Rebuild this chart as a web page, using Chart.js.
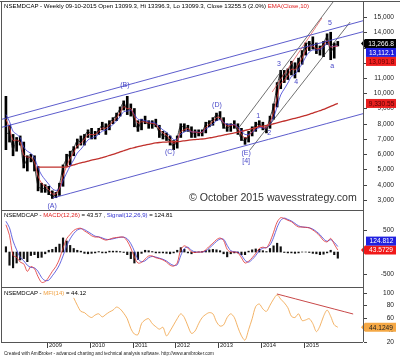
<!DOCTYPE html>
<html>
<head>
<meta charset="utf-8">
<script src="https://cdn.jsdelivr.net/npm/chart.js@4.4.1/dist/chart.umd.min.js"></script>
<style>
body { margin: 0; background: #fff; }
#wrap { position: relative; width: 400px; height: 360px; overflow: hidden; font-family: "Liberation Sans", Arial, sans-serif; }
canvas { position: absolute; left: 0; }
.t { position: absolute; left: 4px; white-space: nowrap; color: #000; line-height: 1; }
.ln { position: absolute; background: #555; }
</style>
</head>
<body>
<div id="wrap">
  <canvas id="cPrice" width="400" height="210" style="top:0;width:400px;height:210px"></canvas>
  <canvas id="cMacd" width="400" height="77" style="top:210px;width:400px;height:77px"></canvas>
  <canvas id="cMfi" width="400" height="73" style="top:287px;width:400px;height:73px"></canvas>

  <div class="ln" style="left:0;top:1px;width:400px;height:1px"></div>
  <div class="ln" style="left:1px;top:1px;width:1px;height:341px"></div>
  <div class="ln" style="left:363px;top:1px;width:1px;height:341px"></div>
  <div class="ln" style="left:1px;top:210px;width:362px;height:1px"></div>
  <div class="ln" style="left:1px;top:287px;width:362px;height:1px"></div>
  <div class="ln" style="left:1px;top:342px;width:362px;height:1px"></div>

  <div class="t" style="top:3px;font-size:6.1px">NSEMDCAP - Weekly 09-10-2015 Open 13099.3, Hi 13396.3, Lo 13099.3, Close 13255.5 (2.0%) <span style="color:#e02020">EMA(Close,10)</span></div>
  <div class="t" style="top:212px;font-size:6px">NSEMDCAP - <span style="color:#e02020">MACD(12,26)</span> = 43.57 , <span style="color:#3030d0">Signal(12,26,9)</span> = 124.81</div>
  <div class="t" style="top:290px;font-size:6px">NSEMDCAP - <span style="color:#f0a040">MFI(14)</span> = 44.12</div>
  <div class="t" style="top:192px;left:189px;font-size:10.6px;color:#333">© October 2015 wavesstrategy.com</div>
  <div class="t" style="top:352px;font-size:4.6px;color:#222">Created with AmiBroker - advanced charting and technical analysis software. http://www.amibroker.com</div>
</div>

<script>
// monthly bars, Jan 2008 .. Oct 2015
const START_YEAR = 2008;
const X_MIN = 2007.95;
const X_MAX = 2016.38;

const highs = [9800, 7900, 7300, 7100, 7200, 6800, 5900, 6000, 5900, 5200, 4100, 4000,
  3900, 3600, 3500, 4100, 5300, 6000, 6200, 6500, 7000, 7200, 7300, 7600,
  7700, 7500, 7700, 8100, 8000, 8200, 8400, 8700, 9100, 9500, 9800, 9300,
  9000, 8200, 8300, 8500, 8200, 8200, 8300, 7900, 7500, 7400, 7200, 6900,
  7200, 8000, 8000, 7900, 7800, 7600, 7600, 7600, 8100, 8200, 8400, 8700,
  8800, 8400, 8000, 8000, 8200, 8000, 7700, 7100, 7500, 7800, 8100, 8200,
  8100, 7800, 8500, 9300, 10700, 11500, 11500, 11600, 12100, 12000, 12300, 12800,
  13300, 13400, 13700, 13300, 13100, 13400, 13900, 14000, 13300, 13400];
const lows = [6300, 6800, 5900, 6200, 6600, 5100, 4900, 5500, 4900, 3600, 3500, 3500,
  3350, 3100, 3150, 3300, 3900, 5200, 5300, 5900, 6400, 6600, 6600, 7100,
  7000, 7000, 7300, 7600, 7300, 7600, 8000, 8200, 8500, 8900, 8600, 8500,
  7800, 7500, 7600, 8000, 7700, 7700, 7800, 7100, 7000, 6900, 6600, 6300,
  6400, 7100, 7500, 7500, 7100, 7100, 7200, 7200, 7400, 7800, 7900, 8200,
  8300, 7700, 7500, 7500, 7700, 7300, 6900, 6650, 6800, 7200, 7500, 7800,
  7600, 7400, 7700, 8300, 9100, 10300, 10700, 10900, 11200, 11000, 11400, 11900,
  12500, 12800, 12900, 12600, 12500, 12400, 13200, 12200, 12300, 13100];
const closes = [7400, 7300, 6300, 6950, 6700, 5300, 5700, 5800, 5200, 3900, 3750, 3750,
  3500, 3200, 3400, 4000, 5200, 5700, 6100, 6400, 6900, 6800, 7200, 7500,
  7300, 7300, 7600, 7900, 7700, 8100, 8300, 8600, 9000, 9400, 8900, 9000,
  8100, 7700, 8200, 8100, 8000, 8000, 7900, 7400, 7200, 7150, 6800, 6500,
  7100, 7900, 7700, 7750, 7300, 7450, 7400, 7450, 8000, 8100, 8300, 8600,
  8400, 7800, 7700, 7900, 7950, 7500, 7000, 6900, 7300, 7700, 7900, 8000,
  7700, 7700, 8400, 9200, 10500, 11300, 11000, 11400, 11900, 11500, 12200, 12600,
  13200, 13300, 13100, 12800, 12950, 13300, 13700, 12700, 13100, 13266.8];
const emaFast = [8300, 7730, 6900, 6930, 6800, 5950, 5810, 5800, 5460, 4570, 4100, 3900,
  3670, 3400, 3400, 3740, 4570, 5210, 5720, 6110, 6560, 6700, 6985, 7280,
  7290, 7300, 7470, 7715, 7705, 7930, 8140, 8400, 8740, 9115, 8990, 8995,
  8485, 8040, 8130, 8115, 8050, 8020, 7950, 7635, 7390, 7250, 6995, 6710,
  6930, 7480, 7605, 7690, 7470, 7460, 7420, 7440, 7760, 7955, 8150, 8405,
  8400, 8060, 7855, 7880, 7920, 7680, 7290, 7070, 7200, 7485, 7720, 7880,
  7780, 7740, 8115, 8735, 9740, 10630, 10840, 11160, 11580, 11535, 11915, 12305,
  12815, 13090, 13095, 12925, 12940, 13145, 13460, 13025, 13070, 13091.8];
const emaSlow = [8600, 8145, 7500, 7310, 7095, 6465, 6200, 6060, 5760, 5110, 4635, 4325,
  4035, 3745, 3625, 3755, 4260, 4765, 5230, 5640, 6080, 6330, 6635, 6940,
  7065, 7150, 7310, 7515, 7580, 7760, 7950, 8180, 8465, 8790, 8830, 8890,
  8615, 8295, 8260, 8205, 8135, 8090, 8025, 7805, 7595, 7440, 7215, 6965,
  7010, 7320, 7455, 7560, 7470, 7465, 7445, 7445, 7640, 7800, 7975, 8195,
  8265, 8100, 7960, 7940, 7945, 7790, 7515, 7300, 7300, 7440, 7600, 7740,
  7730, 7720, 7960, 8395, 9130, 9890, 10280, 10670, 11100, 11240, 11575, 11935,
  12380, 12700, 12840, 12825, 12870, 13020, 13260, 13065, 13080, 13112.1];
// long average, from Oct 2008
const slowMaFirst = 9;
const slowMa = [5150, 5150, 5150, 5150, 5150, 5150, 5150, 5150, 5160,
  5230, 5300, 5370, 5430, 5490, 5550, 5610, 5660, 5710, 5780, 5850, 5920, 5990, 6070, 6150,
  6230, 6310, 6380, 6440, 6500, 6550, 6600, 6650, 6700, 6740, 6770, 6790,
  6800, 6810, 6820, 6830, 6850, 6880, 6910, 6940, 6960, 6980, 7000, 7030,
  7070, 7110, 7160, 7210, 7260, 7300, 7350, 7400, 7450, 7500, 7560, 7620,
  7680, 7740, 7790, 7840, 7890, 7940, 8000, 8060, 8120, 8180, 8240, 8300,
  8360, 8420, 8480, 8550, 8620, 8700, 8780, 8860, 8940, 9040, 9140, 9240, 9330.55];

const macd = [620, 380, -80, -120, -230, -270, -440, -330, -380, -560, -690, -670,
  -570, -440, -330, -160, 90, 300, 400, 490, 530, 540, 480, 430,
  370, 340, 340, 300, 270, 290, 318, 330, 340, 335, 250, 90,
  -120, -250, -235, -160, -90, -90, -130, -150, -180, -230, -300, -320,
  -250, 60, 140, 90, 0, -10, 0, 0, 50, 130, 200, 280,
  318, 260, 60, 0, 0, -20, -130, -250, -210, -130, -30, 80,
  110, 95, 230, 450, 680, 780, 760, 720, 690, 620, 570, 568,
  560, 548, 500, 440, 360, 260, 230, 310, 180, 43.5729];
const signal = [700, 550, 250, 50, -120, -200, -300, -350, -360, -440, -580, -650,
  -640, -540, -430, -290, -90, 130, 300, 420, 500, 530, 510, 460,
  410, 360, 345, 320, 290, 285, 300, 320, 335, 338, 300, 190,
  20, -160, -220, -200, -130, -100, -115, -140, -165, -205, -265, -305,
  -290, -80, 80, 110, 40, 0, 0, 0, 25, 90, 165, 240,
  295, 290, 150, 30, 5, -5, -70, -190, -230, -170, -80, 30,
  90, 100, 160, 330, 560, 720, 770, 740, 705, 650, 595, 570,
  563, 552, 520, 465, 395, 300, 245, 280, 220, 124.812];
const macdHist = [120, -300, -360, -250, -180, -150, -220, -80, -60, -130, -120, -40,
  40, 60, 110, 180, 320, 250, 150, 80, 40, 20, -30, -40,
  -30, -20, 10, -20, -20, 20, 20, 20, 10, -10, -60, -150,
  -250, -170, -30, 40, 30, 10, -20, -20, -20, -30, -40, -20,
  40, 100, 60, -20, -40, -10, 0, 10, 30, 50, 60, 50,
  30, -40, -110, -40, -20, -20, -60, -60, 20, 50, 70, 60,
  30, 10, 80, 140, 200, 120, -10, -20, -20, -30, -20, 0,
  0, -10, -30, -40, -60, -50, -20, 40, -60, -140];

// MFI from Aug 2009
const mfiFirst = 19;
const mfi = [92, 80, 70, 68, 63,
  60, 64, 66, 61, 65, 69, 72, 77, 74, 67, 58, 42,
  33, 32, 50, 56, 58, 50, 45, 41, 44, 30, 38, 48,
  58, 66, 60, 46, 34, 38, 50, 60, 65, 68, 66, 53,
  46, 48, 60, 66, 60, 44, 30, 23, 40, 58, 78, 82,
  74, 70, 80, 90, 97, 90, 84, 76, 62, 60, 66, 55,
  56, 58, 50, 37, 46, 62, 72, 62, 48, 44.1249];

// drawn lines, [year, value] end points
const channelTop = [[2007.95, 8295], [2016.38, 14755]];
const channelTop2 = [[2007.95, 7772], [2016.38, 14034]];
const channelBottom = [[2009.14, 3132], [2016.38, 8660]];
const steepTop = [[2013.44, 7590], [2015.68, 15984]];
const steepBottom = [[2013.74, 6279], [2016.08, 14672]];
const steepRed = [[2014.26, 10082], [2015.42, 14934]];
const mfiTrend = [[2014.37, 98.4], [2016.15, 65.7]];

const waveLabels = [
  ['(A)', 2009.12, 2607], ['(B)', 2010.82, 10541], ['(C)', 2011.87, 6148],
  ['(D)', 2012.97, 9230], ['(E)', 2013.65, 6082], ['[4]', 2013.65, 5558],
  ['1', 2013.93, 8509], ['2', 2014.19, 7394], ['3', 2014.42, 11918],
  ['4', 2014.82, 10738], ['5', 2015.61, 14607], ['a', 2015.66, 11787]
];

const priceTicks = [3000, 4000, 5000, 6000, 7000, 8000, 9000, 10000, 11000, 12000, 13000, 14000, 15000];
const macdTicks = [-500, 0, 500];
const mfiTicks = [20, 40, 60, 80, 100];
const yearTicks = [2009, 2010, 2011, 2012, 2013, 2014, 2015];

const FONT = '"Liberation Sans", Arial, sans-serif';
const monthTime = i => START_YEAR + (i + 0.5) / 12;
const series = (values, first = 0) => values.map((v, i) => ({x: monthTime(i + first), y: v}));
const segment = pts => pts.map(p => ({x: p[0], y: p[1]}));
const last = arr => arr[arr.length - 1];

function lineSet(data, color, width, order = 2) {
    return {type: 'line', data: data, borderColor: color, borderWidth: width,
        pointRadius: 0, tension: 0.3, fill: false, order: order};
}

function baseOptions(yMin, yMax, padBottom) {
    return {
        responsive: false,
        animation: false,
        events: [],
        layout: {padding: {left: 2, right: 37, top: 0, bottom: padBottom}},
        plugins: {legend: {display: false}, tooltip: {enabled: false}},
        scales: {
            x: {type: 'linear', display: false, offset: false, min: X_MIN, max: X_MAX},
            y: {display: false, min: yMin, max: yMax}
        }
    };
}

// right side ticks and labels
function axisPlugin(ticks, fmt) {
    return {
        id: 'rightAxis',
        afterDraw(chart) {
            const {ctx, chartArea, scales} = chart;
            ctx.save();
            ctx.font = '6.6px ' + FONT;
            ctx.fillStyle = '#222';
            ctx.strokeStyle = '#444';
            ctx.lineWidth = 1;
            ctx.textAlign = 'right';
            ctx.textBaseline = 'middle';
            for (const v of ticks) {
                const y = Math.round(scales.y.getPixelForValue(v)) + 0.5;
                ctx.beginPath();
                ctx.moveTo(chartArea.right + 1, y);
                ctx.lineTo(chartArea.right + 4, y);
                ctx.stroke();
                ctx.fillText(fmt(v), 394, y);
            }
            ctx.restore();
        }
    };
}

// value tags on the axis, dir = 1 pushes later tags down, -1 up
function tagPlugin(tags, dir) {
    return {
        id: 'tags',
        afterDraw(chart) {
            const {ctx, scales} = chart;
            ctx.save();
            ctx.font = '6.6px ' + FONT;
            ctx.textAlign = 'center';
            ctx.textBaseline = 'middle';
            let prev = null;
            for (const tag of tags) {
                let y = scales.y.getPixelForValue(tag.value);
                if (prev !== null) {
                    y = dir > 0 ? Math.max(y, prev + 9) : Math.min(y, prev - 9);
                }
                prev = y;
                const left = tag.arrow ? 365 : 366;
                ctx.fillStyle = tag.bg;
                ctx.beginPath();
                if (tag.arrow) {
                    ctx.moveTo(left - 4, y);
                    ctx.lineTo(left, y - 4.5);
                } else {
                    ctx.moveTo(left, y - 4.5);
                }
                ctx.lineTo(396, y - 4.5);
                ctx.lineTo(396, y + 4.5);
                ctx.lineTo(left, y + 4.5);
                ctx.closePath();
                ctx.fill();
                ctx.fillStyle = tag.fg;
                ctx.fillText(tag.text, (left + 396) / 2 + 0.5, y + 0.5);
            }
            ctx.restore();
        }
    };
}

const labelPlugin = {
    id: 'waves',
    afterDatasetsDraw(chart) {
        const {ctx, scales} = chart;
        ctx.save();
        ctx.font = '7px ' + FONT;
        ctx.fillStyle = '#4848c8';
        ctx.textAlign = 'center';
        ctx.textBaseline = 'middle';
        for (const [text, t, v] of waveLabels) {
            ctx.fillText(text, scales.x.getPixelForValue(t), scales.y.getPixelForValue(v));
        }
        ctx.restore();
    }
};

const yearPlugin = {
    id: 'years',
    afterDraw(chart) {
        const {ctx, chartArea, scales} = chart;
        ctx.save();
        ctx.font = '5.8px ' + FONT;
        ctx.fillStyle = '#222';
        ctx.strokeStyle = '#444';
        ctx.textAlign = 'left';
        ctx.textBaseline = 'top';
        for (const yr of yearTicks) {
            const x = Math.round(scales.x.getPixelForValue(yr)) + 0.5;
            ctx.beginPath();
            ctx.moveTo(x, chartArea.bottom);
            ctx.lineTo(x, chartArea.bottom + 6);
            ctx.stroke();
            ctx.fillText(String(yr), x + 1.5, chartArea.bottom + 0.5);
        }
        ctx.restore();
    }
};

const fmtPrice = v => v.toLocaleString('en-US', {minimumFractionDigits: 1, maximumFractionDigits: 2});
const fmtInt = v => v.toLocaleString('en-US');

// price panel
new Chart(document.getElementById('cPrice'), {
    type: 'bar',
    data: {
        datasets: [
            {type: 'bar', data: closes.map((c, i) => ({x: monthTime(i), y: [lows[i], highs[i]]})),
                backgroundColor: '#000', barThickness: 2, order: 10},
            lineSet(series(closes), '#111', 0.8, 9),
            lineSet(series(slowMa, slowMaFirst), '#c0302c', 1.3, 5),
            lineSet(series(emaSlow), '#3c3cd6', 0.8, 4),
            lineSet(series(emaFast), '#e8383a', 0.8, 3),
            lineSet(segment(channelTop), '#4a4ac6', 0.9, 1),
            lineSet(segment(channelTop2), '#4a4ac6', 0.9, 1),
            lineSet(segment(channelBottom), '#4a4ac6', 0.9, 1),
            lineSet(segment(steepTop), '#333', 0.7, 1),
            lineSet(segment(steepBottom), '#333', 0.7, 1),
            lineSet(segment(steepRed), '#e04848', 0.7, 1)
        ]
    },
    options: baseOptions(2344, 16115, 0),
    plugins: [
        labelPlugin,
        axisPlugin(priceTicks, fmtInt),
        tagPlugin([
            {value: last(closes), text: fmtPrice(last(closes)), bg: '#000', fg: '#fff', arrow: true},
            {value: last(emaSlow), text: fmtPrice(last(emaSlow)), bg: '#2020e0', fg: '#fff'},
            {value: last(emaFast), text: fmtPrice(last(emaFast)), bg: '#f02020', fg: '#600'}
        ], 1),
        tagPlugin([
            {value: last(slowMa), text: fmtPrice(last(slowMa)), bg: '#e82020', fg: '#500'}
        ], 1)
    ]
});

// MACD panel
new Chart(document.getElementById('cMacd'), {
    type: 'bar',
    data: {
        datasets: [
            {type: 'bar', data: series(macdHist), backgroundColor: '#111', barThickness: 1.5, order: 10},
            lineSet(series(signal), '#4040d8', 0.8, 2),
            lineSet(series(macd), '#e03030', 0.8, 1)
        ]
    },
    options: baseOptions(-795, 955, 0),
    plugins: [
        axisPlugin(macdTicks, fmtInt),
        tagPlugin([
            {value: last(macd), text: last(macd).toPrecision(6), bg: '#f01818', fg: '#fff', arrow: true},
            {value: last(signal), text: last(signal).toPrecision(6), bg: '#2020e0', fg: '#fff'}
        ], -1)
    ]
});

// MFI panel
new Chart(document.getElementById('cMfi'), {
    type: 'line',
    data: {
        datasets: [
            lineSet(series(mfi, mfiFirst), '#f0a040', 0.8, 2),
            lineSet(segment(mfiTrend), '#c84848', 1, 1)
        ]
    },
    options: baseOptions(20, 109.8, 18),
    plugins: [
        axisPlugin(mfiTicks, fmtInt),
        yearPlugin,
        tagPlugin([
            {value: last(mfi), text: last(mfi).toPrecision(6), bg: '#f5a845', fg: '#222', arrow: true}
        ], 1)
    ]
});
</script>
</body>
</html>
